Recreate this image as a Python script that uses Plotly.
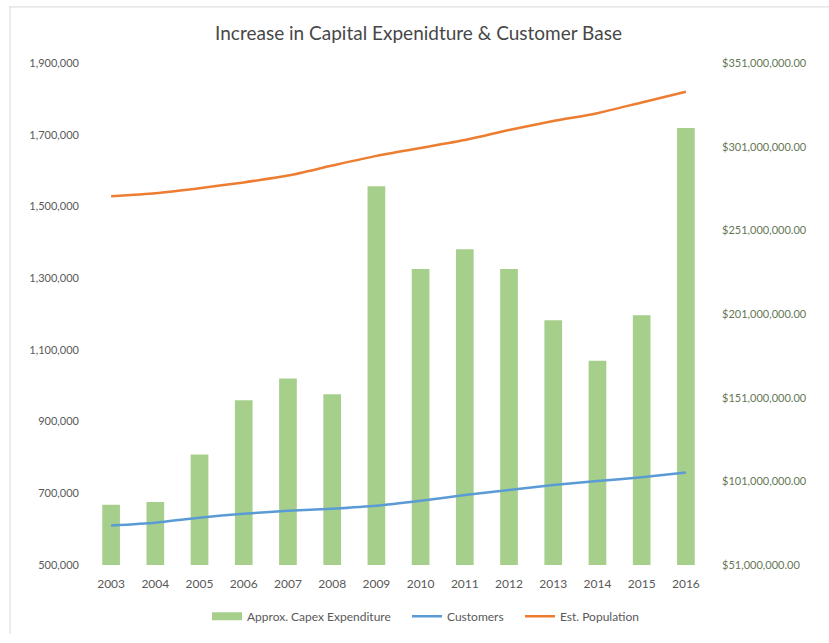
import plotly.graph_objects as go

years = ["2003", "2004", "2005", "2006", "2007", "2008", "2009",
         "2010", "2011", "2012", "2013", "2014", "2015", "2016"]
capex = [87.0e6, 88.7e6, 117.0e6, 149.5e6, 162.4e6, 153.0e6, 277.4e6,
         227.9e6, 239.7e6, 227.9e6, 197.2e6, 173.0e6, 200.2e6, 312.2e6]
customers = [610000, 618000, 632000, 643000, 651000, 657000, 665000,
             679000, 695000, 709000, 723000, 734000, 745000, 758000]
population = [1528600, 1537000, 1551000, 1567000, 1586000, 1614000, 1641000,
              1663000, 1685000, 1713000, 1738000, 1760000, 1790000, 1820000]

title_text = "Increase in Capital Expenidture & Customer Base"
bar_name = "Approx. Capex Expenditure"
cust_name = "Customers"
pop_name = "Est. Population"

W, H = 829, 643
ML, MR, MT, MB = 89, 121, 63, 70
PW = W - ML - MR
PH = H - MT - MB

def px_x(p):
    return (p - ML) / PW

def px_y(p):
    return (H - MB - p) / PH

GREEN = "#A6CF8B"
BLUE = "#5B9BD5"
ORANGE = "#ED7D31"

fig = go.Figure()
fig.add_trace(go.Bar(
    x=years, y=capex, name=bar_name,
    marker=dict(color=GREEN, line=dict(width=0)),
    yaxis="y", showlegend=False, legendgroup="capex",
))
# legend entry for bars drawn as a wide rectangle (Excel style)
fig.add_trace(go.Scatter(
    x=[None], y=[None], name=bar_name, mode="lines",
    line=dict(color=GREEN, width=8), legendgroup="capex",
    legend="legend", yaxis="y",
))
fig.add_trace(go.Scatter(
    x=years, y=customers, name=cust_name, mode="lines",
    line=dict(color=BLUE, width=2.5, shape="spline", smoothing=0.6),
    yaxis="y2", legend="legend2",
))
fig.add_trace(go.Scatter(
    x=years, y=population, name=pop_name, mode="lines",
    line=dict(color=ORANGE, width=2.5, shape="spline", smoothing=0.6),
    yaxis="y2", legend="legend3",
))

font_family = "Lato, 'Open Sans', sans-serif"
leg_y = px_y(625)
leg_common = dict(orientation="h", xanchor="left", yanchor="middle",
                  y=leg_y, font=dict(size=12, color="#595959"),
                  itemwidth=30, bgcolor="rgba(0,0,0,0)", borderwidth=0)

fig.update_layout(
    width=W, height=H,
    margin=dict(l=ML, r=MR, t=MT, b=MB, pad=0),
    paper_bgcolor="white", plot_bgcolor="white",
    font=dict(family=font_family, color="#595959", size=11),
    title=dict(text=title_text, x=px_x(418.5), xref="paper", xanchor="center",
               y=1 - 33 / H, yanchor="middle",
               font=dict(size=19, color="#474747", family=font_family)),
    bargap=0.6,
    showlegend=True,
    legend=dict(x=px_x(207), **leg_common),
    legend2=dict(x=px_x(407), **leg_common),
    legend3=dict(x=px_x(520), **leg_common),
    xaxis=dict(type="category", showgrid=False, showline=False, zeroline=False,
               ticks="", tickfont=dict(size=12, color="#595959"),
               ticklabelstandoff=10),
    yaxis=dict(side="right", range=[51e6, 351e6], tick0=51e6, dtick=50e6,
               tickmode="linear", tickformat="$,.2f", showgrid=False,
               zeroline=False, showline=False, ticks="",
               tickfont=dict(size=11, color="#667755"),
               ticklabelstandoff=13),
    yaxis2=dict(side="left", overlaying="y", range=[500000, 1900000],
                tick0=500000, dtick=200000, tickmode="linear",
                tickformat=",d", showgrid=False, zeroline=False,
                showline=False, ticks="",
                tickfont=dict(size=11, color="#595959"),
                ticklabelstandoff=9),
    shapes=[
        dict(type="line", xref="paper", yref="paper",
             x0=px_x(9), x1=px_x(829), y0=px_y(6), y1=px_y(6),
             line=dict(color="#D9D9D9", width=1)),
        dict(type="line", xref="paper", yref="paper",
             x0=px_x(10), x1=px_x(10), y0=px_y(6), y1=px_y(643),
             line=dict(color="#D9D9D9", width=1)),
    ],
)

fig.write_html("out.html")
